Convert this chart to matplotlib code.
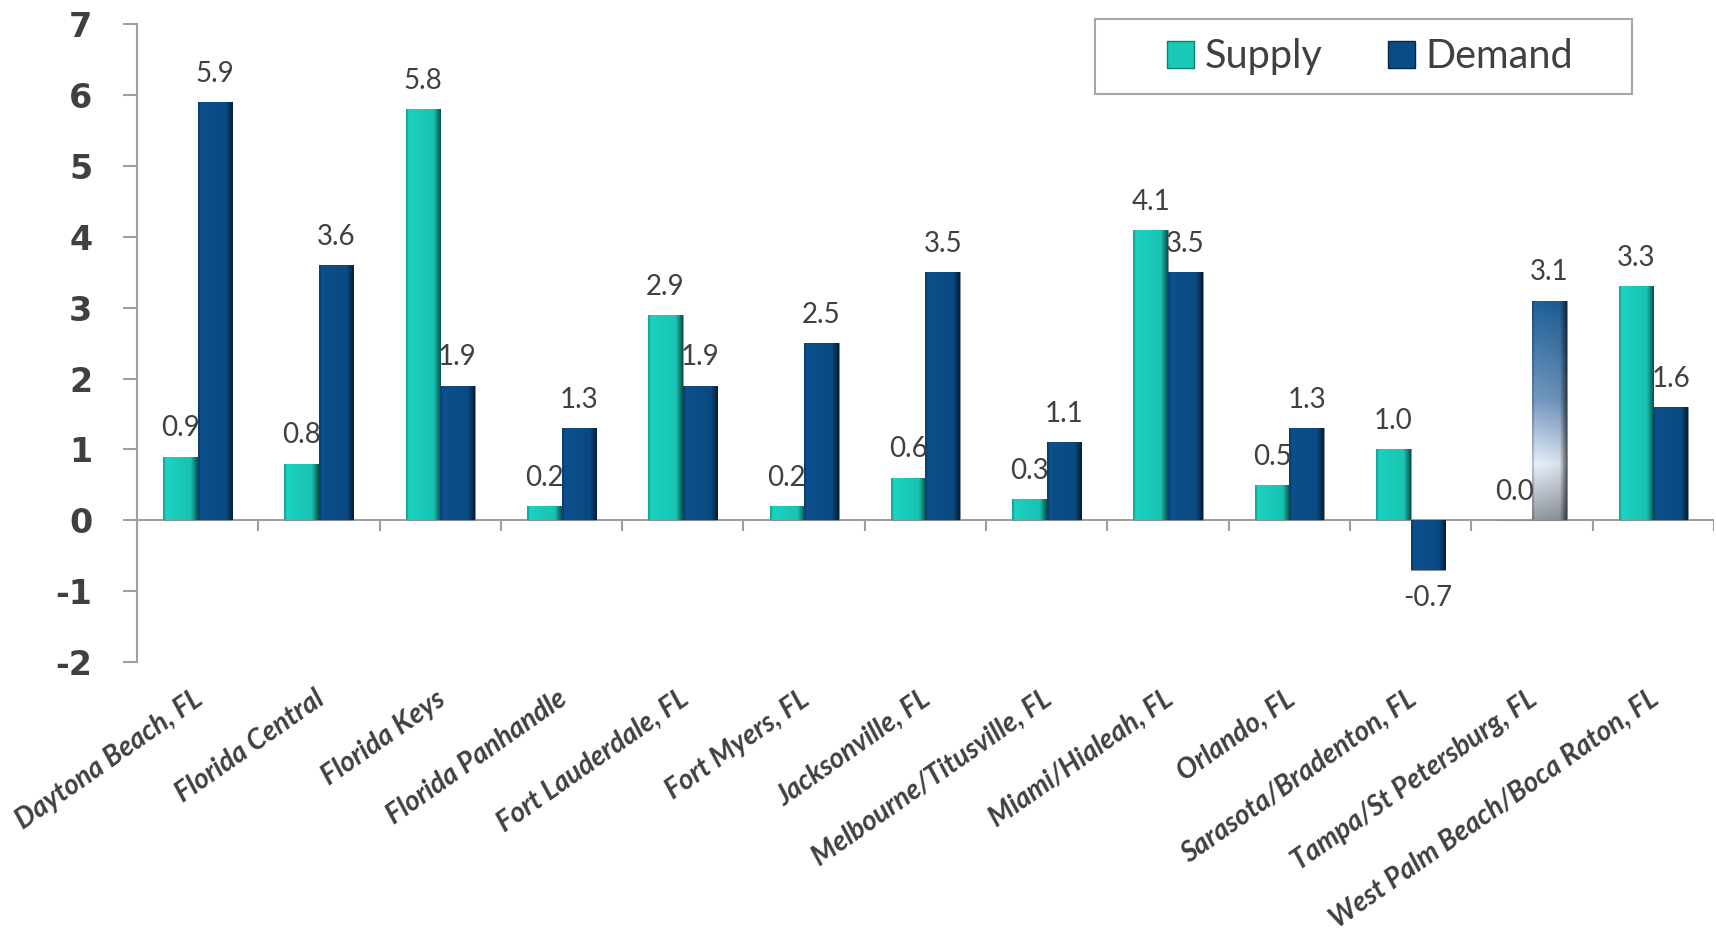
import numpy as np
import matplotlib
matplotlib.use("Agg")
import matplotlib.pyplot as plt
from matplotlib.patches import Patch, Rectangle
from matplotlib.colors import to_rgb

# data
markets = ["Daytona Beach, FL", "Florida Central", "Florida Keys", "Florida Panhandle",
           "Fort Lauderdale, FL", "Fort Myers, FL", "Jacksonville, FL",
           "Melbourne/Titusville, FL", "Miami/Hialeah, FL", "Orlando, FL",
           "Sarasota/Bradenton, FL", "Tampa/St Petersburg, FL",
           "West Palm Beach/Boca Raton, FL"]
supply = [0.9, 0.8, 5.8, 0.2, 2.9, 0.2, 0.6, 0.3, 4.1, 0.5, 1.0, 0.0, 3.3]
demand = [5.9, 3.6, 1.9, 1.3, 1.9, 2.5, 3.5, 1.1, 3.5, 1.3, -0.7, 3.1, 1.6]

SUPPLY_COL = "#1ac9b8"
DEMAND_COL = "#0b4c86"
TEXT_COL = "#404040"
AXIS_COL = "#a0a0a0"

plt.rcParams['font.family'] = ['Lato', 'DejaVu Sans']
plt.rcParams['axes.unicode_minus'] = False


def shade_bar(ax, rect, color, vertical=None):
    # fake the 3D look with a gradient clipped to the bar
    x, y = rect.get_x(), rect.get_y()
    w, h = rect.get_width(), rect.get_height()
    cols = np.linspace(0, 1, 64)
    f = np.where(cols < 0.8, 1.05 - 0.1 * cols, 0.97 - (cols - 0.8) * 2.8)
    f = np.where(cols < 0.06, 0.85, f)
    if vertical is None:
        base = np.tile(np.array(to_rgb(color)), (64, 1))
    else:
        rows = np.linspace(0, 1, 64)
        stops_p = [s[0] for s in vertical]
        base = np.stack([np.interp(rows, stops_p, [to_rgb(s[1])[k] for s in vertical])
                         for k in range(3)], axis=1)
    img = np.clip(base[:, None, :] * f[None, :, None], 0, 1)
    y0, y1 = (y, y + h) if h >= 0 else (y + h, y)
    im = ax.imshow(img, extent=(x, x + w, y0, y1), origin='upper',
                   aspect='auto', interpolation='bilinear', zorder=3)
    im.set_clip_path(rect)


fig = plt.figure(figsize=(17.16, 9.35), dpi=100)
ax = fig.add_axes([0.0798, 0.292, 0.919, 0.682])

x = np.arange(len(markets))
bw = 0.285
sb = ax.bar(x - bw / 2, supply, bw, color=SUPPLY_COL, edgecolor="#8c8c8c",
            linewidth=0.6, zorder=2)
db = ax.bar(x + bw / 2, demand, bw, color=DEMAND_COL, edgecolor="#8c8c8c",
            linewidth=0.6, zorder=2)

for r in sb:
    shade_bar(ax, r, SUPPLY_COL)
for i, r in enumerate(db):
    if markets[i].startswith("Tampa"):
        shade_bar(ax, r, DEMAND_COL, vertical=[(0, "#1d5d93"), (0.45, "#6f93ba"),
                                              (0.75, "#dfe7f2"), (1, "#8e949c")])
    else:
        shade_bar(ax, r, DEMAND_COL)

# value labels
for bars, vals in ((sb, supply), (db, demand)):
    for r, v in zip(bars, vals):
        cx = r.get_x() + r.get_width() / 2
        if v >= 0:
            ax.annotate(f"{v:.1f}", (cx, v), xytext=(0, 11), textcoords="offset points",
                        ha="center", va="bottom", fontsize=20, color=TEXT_COL, zorder=5)
        else:
            ax.annotate(f"{v:.1f}", (cx, v), xytext=(0, -11), textcoords="offset points",
                        ha="center", va="top", fontsize=20, color=TEXT_COL, zorder=5)

ax.set_xlim(-0.5, len(markets) - 0.5)
ax.set_ylim(-2, 7)

for s in ("top", "right", "bottom"):
    ax.spines[s].set_visible(False)
ax.spines["left"].set_color(AXIS_COL)
ax.spines["left"].set_linewidth(1.5)

ax.set_yticks(range(-2, 8))
ax.tick_params(axis="y", length=10, width=1.5, color=AXIS_COL, pad=22,
               labelsize=24, labelcolor=TEXT_COL)
for t in ax.get_yticklabels():
    t.set_fontfamily("DejaVu Sans")
    t.set_fontweight("bold")

# zero line with category divider ticks
ax.axhline(0, color=AXIS_COL, linewidth=1.5, zorder=1)
ax.vlines(np.arange(len(markets) + 1) - 0.5, -0.15, 0, color=AXIS_COL,
          linewidth=1.5, zorder=1)

ax.set_xticks(x - 0.04)
ax.set_xticklabels(markets, rotation=35, ha="right", rotation_mode="anchor",
                   fontsize=20, fontweight="bold", fontstyle="italic", color=TEXT_COL)
ax.tick_params(axis="x", length=0, pad=17)

# legend box
ax.add_patch(Rectangle((0.6075, 0.890), 0.3405, 0.1176, transform=ax.transAxes,
                       facecolor="white", edgecolor="#a6a6a6", linewidth=1.5,
                       clip_on=False, zorder=6))
handles = [Patch(facecolor=SUPPLY_COL, edgecolor="#0e7e72", label="Supply"),
           Patch(facecolor=DEMAND_COL, edgecolor="#05284a", label="Demand")]
leg = ax.legend(handles=handles, loc="center", bbox_to_anchor=(0.782, 0.949),
                ncol=2, frameon=False, fontsize=28.5, handlelength=0.68,
                handleheight=0.68, handletextpad=0.25, columnspacing=1.68,
                labelcolor=TEXT_COL)
leg.set_zorder(7)

fig.savefig("out.png", dpi=100, facecolor="white")
